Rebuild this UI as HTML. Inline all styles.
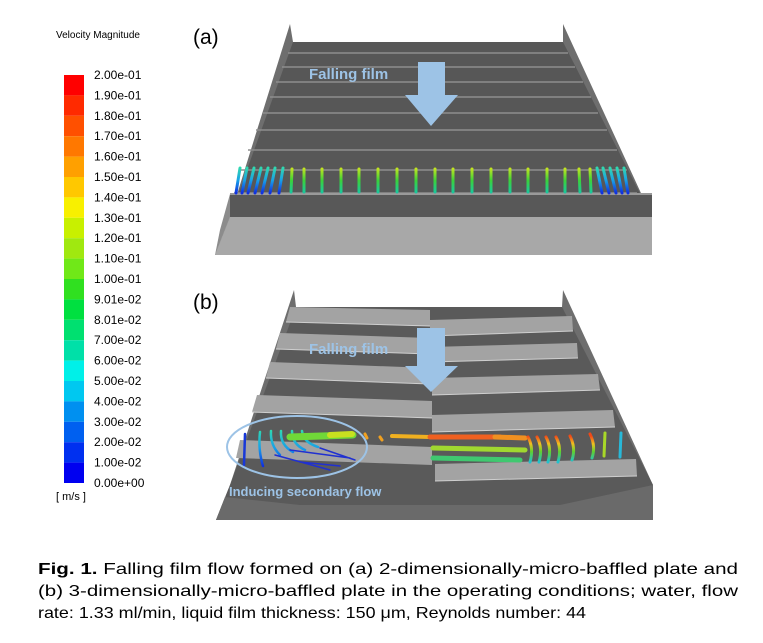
<!DOCTYPE html>
<html><head><meta charset="utf-8"><style>
html,body{margin:0;padding:0;background:#fff;width:763px;height:643px;overflow:hidden}
svg{display:block}
text{font-family:"Liberation Sans",Arial,sans-serif}
</style></head><body>
<svg width="763" height="643" viewBox="0 0 763 643" xmlns="http://www.w3.org/2000/svg">
<defs>
<linearGradient id="vg" gradientUnits="userSpaceOnUse" x1="0" y1="193" x2="0" y2="168">
<stop offset="0" stop-color="#19c8a0"/><stop offset="0.5" stop-color="#3ad23a"/><stop offset="1" stop-color="#c8e61e"/>
</linearGradient>
<linearGradient id="eg" gradientUnits="userSpaceOnUse" x1="0" y1="193" x2="0" y2="168">
<stop offset="0" stop-color="#1030e0"/><stop offset="0.5" stop-color="#18a0e8"/><stop offset="1" stop-color="#30d8b0"/>
</linearGradient>
<linearGradient id="eg2" gradientUnits="userSpaceOnUse" x1="0" y1="466" x2="0" y2="430">
<stop offset="0" stop-color="#1030e0"/><stop offset="0.5" stop-color="#18a0e8"/><stop offset="1" stop-color="#30d8b0"/>
</linearGradient>
<linearGradient id="rg" gradientUnits="userSpaceOnUse" x1="0" y1="462" x2="0" y2="436">
<stop offset="0" stop-color="#20c0d0"/><stop offset="0.4" stop-color="#60d030"/><stop offset="0.7" stop-color="#f0c020"/><stop offset="1" stop-color="#f04818"/>
</linearGradient>
</defs>

<!-- Legend -->
<text x="56" y="38" font-size="10">Velocity Magnitude</text>
<g>
<rect x="64" y="75" width="20" height="20.4" fill="#ff0000"/>
<rect x="64" y="95.4" width="20" height="20.4" fill="#ff2a00"/>
<rect x="64" y="115.8" width="20" height="20.4" fill="#ff5000"/>
<rect x="64" y="136.2" width="20" height="20.4" fill="#ff7800"/>
<rect x="64" y="156.6" width="20" height="20.4" fill="#ffa000"/>
<rect x="64" y="177" width="20" height="20.4" fill="#ffc800"/>
<rect x="64" y="197.4" width="20" height="20.4" fill="#f8f000"/>
<rect x="64" y="217.8" width="20" height="20.4" fill="#c8f000"/>
<rect x="64" y="238.2" width="20" height="20.4" fill="#a0e810"/>
<rect x="64" y="258.6" width="20" height="20.4" fill="#70e818"/>
<rect x="64" y="279" width="20" height="20.4" fill="#30e020"/>
<rect x="64" y="299.4" width="20" height="20.4" fill="#00e040"/>
<rect x="64" y="319.8" width="20" height="20.4" fill="#00e070"/>
<rect x="64" y="340.2" width="20" height="20.4" fill="#00e0a8"/>
<rect x="64" y="360.6" width="20" height="20.4" fill="#00f0e8"/>
<rect x="64" y="381" width="20" height="20.4" fill="#00c8f0"/>
<rect x="64" y="401.4" width="20" height="20.4" fill="#0090f0"/>
<rect x="64" y="421.8" width="20" height="20.4" fill="#0060f0"/>
<rect x="64" y="442.2" width="20" height="20.4" fill="#0030f0"/>
<rect x="64" y="462.6" width="20" height="20.4" fill="#0000f0"/>
</g>
<g font-size="12" fill="#000">
<text x="94" y="79">2.00e-01</text>
<text x="94" y="99.4">1.90e-01</text>
<text x="94" y="119.8">1.80e-01</text>
<text x="94" y="140.2">1.70e-01</text>
<text x="94" y="160.6">1.60e-01</text>
<text x="94" y="181">1.50e-01</text>
<text x="94" y="201.4">1.40e-01</text>
<text x="94" y="221.8">1.30e-01</text>
<text x="94" y="242.2">1.20e-01</text>
<text x="94" y="262.6">1.10e-01</text>
<text x="94" y="283">1.00e-01</text>
<text x="94" y="303.4">9.01e-02</text>
<text x="94" y="323.8">8.01e-02</text>
<text x="94" y="344.2">7.00e-02</text>
<text x="94" y="364.6">6.00e-02</text>
<text x="94" y="385">5.00e-02</text>
<text x="94" y="405.4">4.00e-02</text>
<text x="94" y="425.8">3.00e-02</text>
<text x="94" y="446.2">2.00e-02</text>
<text x="94" y="466.6">1.00e-02</text>
<text x="94" y="487">0.00e+00</text>
</g>
<text x="56" y="500" font-size="11">[ m/s ]</text>

<!-- Panel (a) -->
<text x="193" y="44" font-size="21">(a)</text>
<polygon points="290,24 293,42 563,42 563,24 652,217 652,255 215,255 230,217" fill="#6e6e6e"/>
<polygon points="293,42 563,42 652,217 230,217" fill="#575757"/>
<g stroke="#8e8e8e" stroke-width="1.5">
<line x1="288" y1="53" x2="568" y2="53"/>
<line x1="282" y1="67" x2="575" y2="67"/>
<line x1="276" y1="82" x2="583" y2="82"/>
<line x1="270" y1="97" x2="591" y2="97"/>
<line x1="263" y1="113" x2="598" y2="113"/>
<line x1="256" y1="130" x2="607" y2="130"/>
<line x1="248" y1="150" x2="617" y2="150"/>
<line x1="241" y1="170" x2="627" y2="170"/>
<line x1="234" y1="193" x2="637" y2="193"/>
</g>
<rect x="230" y="193" width="422" height="24" fill="#585858"/>
<line x1="230" y1="194" x2="652" y2="194" stroke="#9a9a9a" stroke-width="2"/>
<polygon points="230,217 652,217 652,255 215,255" fill="#a8a8a8"/>
<polygon points="215,255 230,217 230,194 220,230" fill="#8c8c8c"/>
<!-- vectors (a) -->
<g stroke="url(#vg)" stroke-width="3" stroke-linecap="round">
<line x1="322" y1="192" x2="322" y2="169"/><line x1="341" y1="192" x2="341" y2="169"/>
<line x1="359" y1="192" x2="359" y2="169"/><line x1="378" y1="192" x2="378" y2="169"/>
<line x1="397" y1="192" x2="397" y2="169"/><line x1="416" y1="192" x2="416" y2="169"/>
<line x1="435" y1="192" x2="435" y2="169"/><line x1="453" y1="192" x2="453" y2="169"/>
<line x1="472" y1="192" x2="472" y2="169"/><line x1="491" y1="192" x2="491" y2="169"/>
<line x1="510" y1="192" x2="510" y2="169"/><line x1="528" y1="192" x2="528" y2="169"/>
<line x1="547" y1="192" x2="547" y2="169"/><line x1="565" y1="192" x2="565" y2="169"/>
<line x1="304" y1="192" x2="304" y2="169"/><line x1="291" y1="192" x2="292" y2="169"/>
<line x1="580" y1="192" x2="579" y2="169"/><line x1="591" y1="192" x2="590" y2="169"/>
</g>
<g stroke="url(#eg)" stroke-width="3" stroke-linecap="round">
<line x1="236" y1="193" x2="240" y2="168"/><line x1="242" y1="193" x2="247" y2="168"/>
<line x1="248" y1="193" x2="254" y2="168"/><line x1="255" y1="193" x2="261" y2="168"/>
<line x1="262" y1="193" x2="268" y2="168"/><line x1="270" y1="193" x2="275" y2="168"/>
<line x1="279" y1="193" x2="283" y2="168"/>
<line x1="628" y1="193" x2="624" y2="168"/><line x1="622" y1="193" x2="617" y2="168"/>
<line x1="616" y1="193" x2="610" y2="168"/><line x1="609" y1="193" x2="603" y2="168"/>
<line x1="602" y1="193" x2="597" y2="168"/>
</g>
<text x="309" y="79" font-size="15" font-weight="bold" fill="#9dc3e6">Falling film</text>
<polygon points="418,62 445,62 445,95 458,95 431,126 405,95 418,95" fill="#9dc3e6"/>

<!-- Panel (b) -->
<text x="193" y="309" font-size="21">(b)</text>
<polygon points="294,290 296,307 562,307 563,290 653,485 653,520 216,520 230,485" fill="#6e6e6e"/>
<polygon points="296,307 562,307 653,485 653,520 216,520 230,485" fill="#5a5a5a"/>
<polygon points="216,520 653,520 653,485 560,505 300,505 225,497" fill="#6a6a6a"/>
<g fill="#a3a3a3">
<polygon points="290,307 430,310 430,326 286,322"/>
<polygon points="280,333 430,338 430,354 276,349"/>
<polygon points="270,362 430,368 430,384 266,378"/>
<polygon points="257,395 432,401 432,418 252,412"/>
<polygon points="240,440 432,447 432,465 236,458"/>
<polygon points="430,320 572,316 573,331 430,336"/>
<polygon points="430,347 577,343 578,358 430,362"/>
<polygon points="432,378 598,374 600,390 432,395"/>
<polygon points="432,415 613,410 615,427 432,432"/>
<polygon points="435,464 636,459 637,476 435,481"/>
</g>
<g stroke="#cfcfcf" stroke-width="1">
<line x1="286" y1="322" x2="430" y2="326"/><line x1="276" y1="349" x2="430" y2="354"/>
<line x1="266" y1="378" x2="430" y2="384"/><line x1="252" y1="412" x2="432" y2="418"/>
<line x1="430" y1="336" x2="573" y2="331"/><line x1="430" y1="362" x2="578" y2="358"/>
<line x1="432" y1="395" x2="600" y2="390"/><line x1="432" y1="432" x2="615" y2="427"/>
<line x1="435" y1="481" x2="637" y2="476"/>
</g>
<!-- vectors (b) -->
<g stroke-width="2.5" stroke-linecap="round" fill="none">
<path d="M245,434 L244,465" stroke="#1838d8"/>
<path d="M260,432 Q258,450 263,466" stroke="url(#eg2)"/>
<path d="M271,431 Q270,445 280,455" stroke="url(#eg2)"/>
<path d="M281,431 Q280,445 293,452" stroke="url(#eg2)"/>
<path d="M292,431 Q292,444 305,450" stroke="url(#eg2)"/>
<path d="M302,431 Q303,442 318,447" stroke="url(#eg2)"/>
<path d="M290,437 L353,435" stroke="#70d838" stroke-width="7"/>
<path d="M330,435 L352,434" stroke="#c8e020" stroke-width="6"/>
<path d="M275,455 L330,470 M290,450 L350,458 M300,462 L340,466 M320,448 L355,460" stroke="#2030d0" stroke-width="1.5"/>
<path d="M365,434 L367,438 M380,437 L382,440" stroke="#f0a020" stroke-width="3"/>
<path d="M392,436 L430,437" stroke="#f0b020" stroke-width="4"/>
<path d="M430,437 L500,437" stroke="#f06020" stroke-width="5"/>
<path d="M495,437 L525,438" stroke="#f09020" stroke-width="5"/>
<path d="M433,448 L525,450" stroke="#a0d830" stroke-width="5"/>
<path d="M433,458 L520,460" stroke="#40c870" stroke-width="5"/>
</g>
<g stroke="url(#rg)" stroke-width="3" stroke-linecap="round" fill="none">
<path d="M528,437 Q534,448 530,462"/><path d="M537,437 Q543,448 539,462"/>
<path d="M546,437 Q552,448 548,462"/><path d="M556,437 Q562,448 558,462"/>
<path d="M570,436 Q576,448 572,460"/><path d="M590,434 Q596,446 592,458"/>
</g>
<g stroke-width="3" stroke-linecap="round">
<line x1="605" y1="433" x2="604" y2="456" stroke="#a8d828"/>
<line x1="621" y1="433" x2="620" y2="457" stroke="#28b8d8"/>
</g>
<ellipse cx="297" cy="447" rx="70" ry="31" fill="none" stroke="#9dc3e6" stroke-width="2"/>
<text x="229" y="496" font-size="13" font-weight="bold" fill="#9dc3e6">Inducing secondary flow</text>
<text x="309" y="354" font-size="15" font-weight="bold" fill="#9dc3e6">Falling film</text>
<polygon points="417,328 445,328 445,366 458,366 431,392 405,366 417,366" fill="#9dc3e6"/>

<!-- Caption -->
<g font-size="16" fill="#000">
<text x="38" y="574" textLength="700" lengthAdjust="spacingAndGlyphs"><tspan font-weight="bold">Fig. 1.</tspan> Falling film flow formed on (a) 2-dimensionally-micro-baffled plate and</text>
<text x="38" y="596" textLength="700" lengthAdjust="spacingAndGlyphs">(b) 3-dimensionally-micro-baffled plate in the operating conditions; water, flow</text>
<text x="38" y="618" textLength="548" lengthAdjust="spacingAndGlyphs">rate: 1.33 ml/min, liquid film thickness: 150 μm, Reynolds number: 44</text>
</g>
</svg>
</body></html>
